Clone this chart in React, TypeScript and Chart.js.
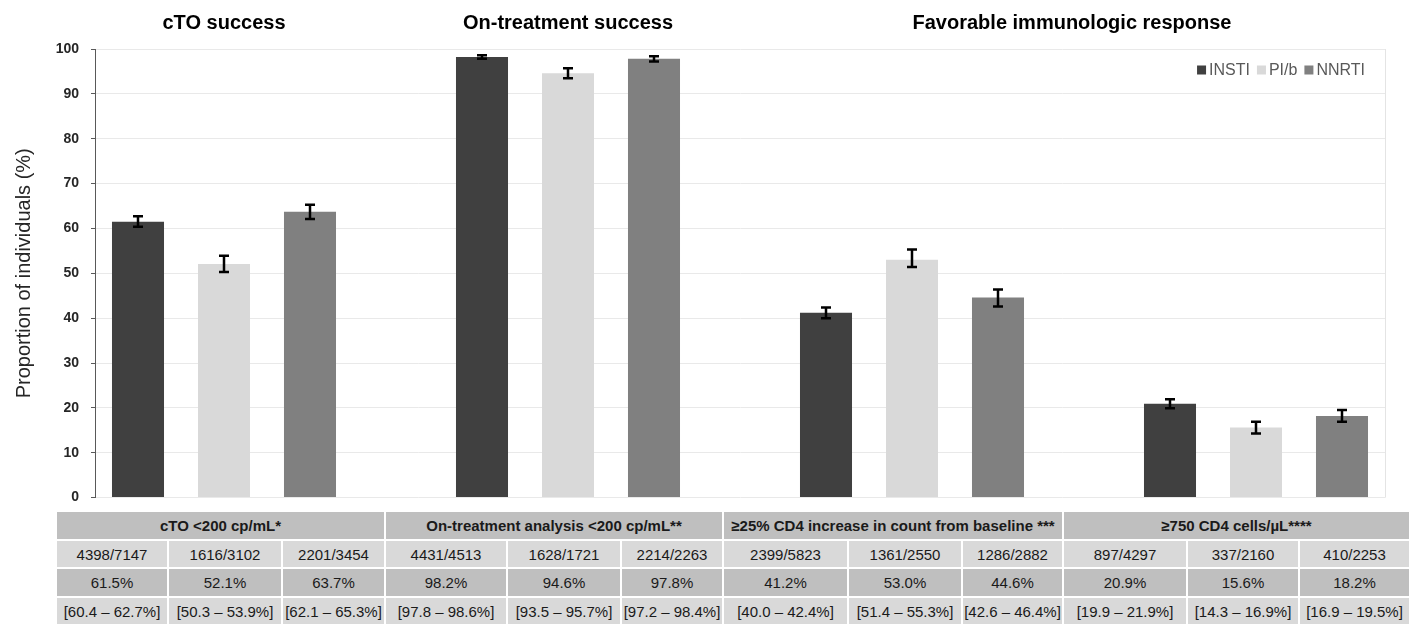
import React, { useEffect, useRef } from 'react';
import { Chart, registerables } from 'chart.js';

Chart.register(...registerables);

// ---- data ----
const seriesNames = ['INSTI', 'PI/b', 'NNRTI'];
const seriesColors = ['#404040', '#d9d9d9', '#808080'];

const panelTitles = ['cTO success', 'On-treatment success', 'Favorable immunologic response'];
const outcomeLabels = [
  'cTO <200 cp/mL*',
  'On-treatment analysis <200 cp/mL**',
  '≥25% CD4 increase in count from baseline ***',
  '≥750 CD4 cells/µL****',
];

const instiValues = [61.5, 98.2, 41.2, 20.9];
const pibValues = [52.1, 94.6, 53.0, 15.6];
const nnrtiValues = [63.7, 97.8, 44.6, 18.2];

const instiLow = [60.4, 97.8, 40.0, 19.9];
const instiHigh = [62.7, 98.6, 42.4, 21.9];
const pibLow = [50.3, 93.5, 51.4, 14.3];
const pibHigh = [53.9, 95.7, 55.3, 16.9];
const nnrtiLow = [62.1, 97.2, 42.6, 16.9];
const nnrtiHigh = [65.3, 98.4, 46.4, 19.5];

const instiCounts = ['4398/7147', '4431/4513', '2399/5823', '897/4297'];
const pibCounts = ['1616/3102', '1628/1721', '1361/2550', '337/2160'];
const nnrtiCounts = ['2201/3454', '2214/2263', '1286/2882', '410/2253'];

const yTickMin = 0;
const yTickMax = 100;
const yTickStep = 10;

const seriesValues = [instiValues, pibValues, nnrtiValues];
const seriesLow = [instiLow, pibLow, nnrtiLow];
const seriesHigh = [instiHigh, pibHigh, nnrtiHigh];
const seriesCounts = [instiCounts, pibCounts, nnrtiCounts];

// each outcome takes three bar slots, followed by one empty spacer slot
const SLOTS = 4;
const slotLabels: string[] = [];
outcomeLabels.forEach((o, k) => {
  seriesNames.forEach((s) => slotLabels.push(`${o} ${s}`));
  if (k < outcomeLabels.length - 1) slotLabels.push('');
});

const FONT = '"Liberation Sans", Arial, Helvetica, sans-serif';

// ---- layout ----
const PAGE_W = 1418;
const PAGE_H = 624;
const CANVAS_H = 518;
const tableCols = [56, 168, 282, 385, 507, 621, 723, 848, 962, 1063, 1187, 1299, 1410];
const tableRows = [
  { top: 512, height: 27, bg: '#bfbfbf' },
  { top: 541, height: 26, bg: '#d9d9d9' },
  { top: 569, height: 27, bg: '#bfbfbf' },
  { top: 598, height: 26, bg: '#d9d9d9' },
];

const fmt1 = (v: number) => v.toFixed(1);

const errorBarPlugin = {
  id: 'errorBars',
  afterDatasetsDraw(chart: any) {
    const { ctx } = chart;
    const y = chart.scales.y;
    ctx.save();
    ctx.strokeStyle = '#000000';
    ctx.lineWidth = 2.5;
    seriesNames.forEach((_, s) => {
      const meta = chart.getDatasetMeta(s);
      meta.data.forEach((bar: any, i: number) => {
        if (i % SLOTS !== s) return;
        const k = Math.floor(i / SLOTS);
        const lo = y.getPixelForValue(seriesLow[s][k]);
        const hi = y.getPixelForValue(seriesHigh[s][k]);
        const x = Math.round(bar.x);
        const cap = 5;
        ctx.beginPath();
        ctx.moveTo(x, lo);
        ctx.lineTo(x, hi);
        ctx.moveTo(x - cap, lo);
        ctx.lineTo(x + cap, lo);
        ctx.moveTo(x - cap, hi);
        ctx.lineTo(x + cap, hi);
        ctx.stroke();
      });
    });
    ctx.restore();
  },
};

const frameAndLabelsPlugin = {
  id: 'frameAndLabels',
  beforeDatasetsDraw(chart: any) {
    const { ctx, chartArea } = chart;
    ctx.save();
    ctx.strokeStyle = '#e4e4e4';
    ctx.lineWidth = 1;
    ctx.beginPath();
    ctx.moveTo(Math.round(chartArea.right) + 0.5, chartArea.top);
    ctx.lineTo(Math.round(chartArea.right) + 0.5, chartArea.bottom);
    ctx.stroke();
    ctx.restore();
  },
  afterDraw(chart: any) {
    const { ctx, chartArea } = chart;
    const x = chart.scales.x;
    ctx.save();
    // panel headings
    ctx.fillStyle = '#000000';
    ctx.font = `bold 20px ${FONT}`;
    ctx.textAlign = 'center';
    ctx.textBaseline = 'middle';
    const centers = [
      x.getPixelForValue(1),
      x.getPixelForValue(5),
      (x.getPixelForValue(9) + x.getPixelForValue(13)) / 2 - 12,
    ];
    panelTitles.forEach((t, i) => ctx.fillText(t, centers[i], 23));

    // legend, right aligned inside the plot area
    ctx.font = `16px ${FONT}`;
    ctx.textAlign = 'left';
    const box = 9;
    const boxGap = 3;
    const itemGap = 7;
    const widths = seriesNames.map((n) => box + boxGap + ctx.measureText(n).width);
    const total = widths.reduce((a, b) => a + b, 0) + itemGap * (widths.length - 1);
    let lx = chartArea.right - 20 - total;
    const ly = 70;
    seriesNames.forEach((n, i) => {
      ctx.fillStyle = seriesColors[i];
      ctx.fillRect(lx, ly - box / 2, box, box);
      ctx.fillStyle = '#595959';
      ctx.fillText(n, lx + box + boxGap, ly + 1);
      lx += widths[i] + itemGap;
    });
    ctx.restore();
  },
};

function BarChart() {
  const ref = useRef<HTMLCanvasElement | null>(null);
  useEffect(() => {
    if (!ref.current) return;
    const datasets = seriesNames.map((name, s) => ({
      label: name,
      data: slotLabels.map((_, i) =>
        i % SLOTS === s ? seriesValues[s][Math.floor(i / SLOTS)] : null
      ),
      backgroundColor: seriesColors[s],
      borderWidth: 0,
      grouped: false,
      barPercentage: 0.605,
      categoryPercentage: 1,
    }));
    const chart = new Chart(ref.current, {
      type: 'bar',
      data: { labels: slotLabels, datasets },
      options: {
        responsive: false,
        animation: false,
        devicePixelRatio: 1,
        layout: { padding: { top: 49, right: 33, bottom: 6, left: 0 } },
        plugins: {
          legend: { display: false },
          tooltip: { enabled: false },
          title: { display: false },
        },
        scales: {
          x: { display: false },
          y: {
            min: yTickMin,
            max: yTickMax,
            ticks: {
              stepSize: yTickStep,
              padding: 12,
              color: '#262626',
              font: { family: FONT, size: 14, weight: 'bold' },
            },
            grid: {
              color: '#e9e9e9',
              tickColor: '#595959',
              tickLength: 4,
              lineWidth: 1,
            },
            border: { display: true, color: '#595959', width: 1 },
            title: {
              display: true,
              text: 'Proportion of individuals (%)',
              color: '#262626',
              font: { family: FONT, size: 20, weight: 'normal' },
              padding: { top: 12, bottom: 0 },
            },
            afterFit(scale: any) {
              scale.width = 95;
            },
          },
        },
      },
      plugins: [frameAndLabelsPlugin, errorBarPlugin],
    } as any);
    return () => chart.destroy();
  }, []);
  return <canvas ref={ref} width={PAGE_W} height={CANVAS_H} style={{ display: 'block' }} />;
}

function cellStyle(left: number, right: number, row: number, bold: boolean): React.CSSProperties {
  const r = tableRows[row];
  return {
    position: 'absolute',
    left: left + 1,
    width: right - left - 2,
    top: r.top,
    height: r.height,
    background: r.bg,
    display: 'flex',
    alignItems: 'center',
    justifyContent: 'center',
    fontFamily: FONT,
    fontSize: 15,
    fontWeight: bold ? 'bold' : 'normal',
    color: '#1a1a1a',
    whiteSpace: 'nowrap',
  };
}

function SummaryTable() {
  const cells: React.ReactNode[] = [];
  outcomeLabels.forEach((label, k) => {
    cells.push(
      <div key={`h${k}`} style={cellStyle(tableCols[k * 3], tableCols[k * 3 + 3], 0, true)}>
        {label}
      </div>
    );
    seriesNames.forEach((_, s) => {
      const c = k * 3 + s;
      const l = tableCols[c];
      const r = tableCols[c + 1];
      cells.push(
        <div key={`n${c}`} style={cellStyle(l, r, 1, false)}>
          {seriesCounts[s][k]}
        </div>
      );
      cells.push(
        <div key={`p${c}`} style={cellStyle(l, r, 2, false)}>
          {`${fmt1(seriesValues[s][k])}%`}
        </div>
      );
      cells.push(
        <div key={`c${c}`} style={cellStyle(l, r, 3, false)}>
          {`[${fmt1(seriesLow[s][k])} – ${fmt1(seriesHigh[s][k])}%]`}
        </div>
      );
    });
  });
  return <>{cells}</>;
}

export default function App() {
  return (
    <div
      style={{
        position: 'absolute',
        left: 0,
        top: 0,
        width: PAGE_W,
        height: PAGE_H,
        background: '#ffffff',
        overflow: 'hidden',
      }}
    >
      <BarChart />
      <SummaryTable />
    </div>
  );
}
